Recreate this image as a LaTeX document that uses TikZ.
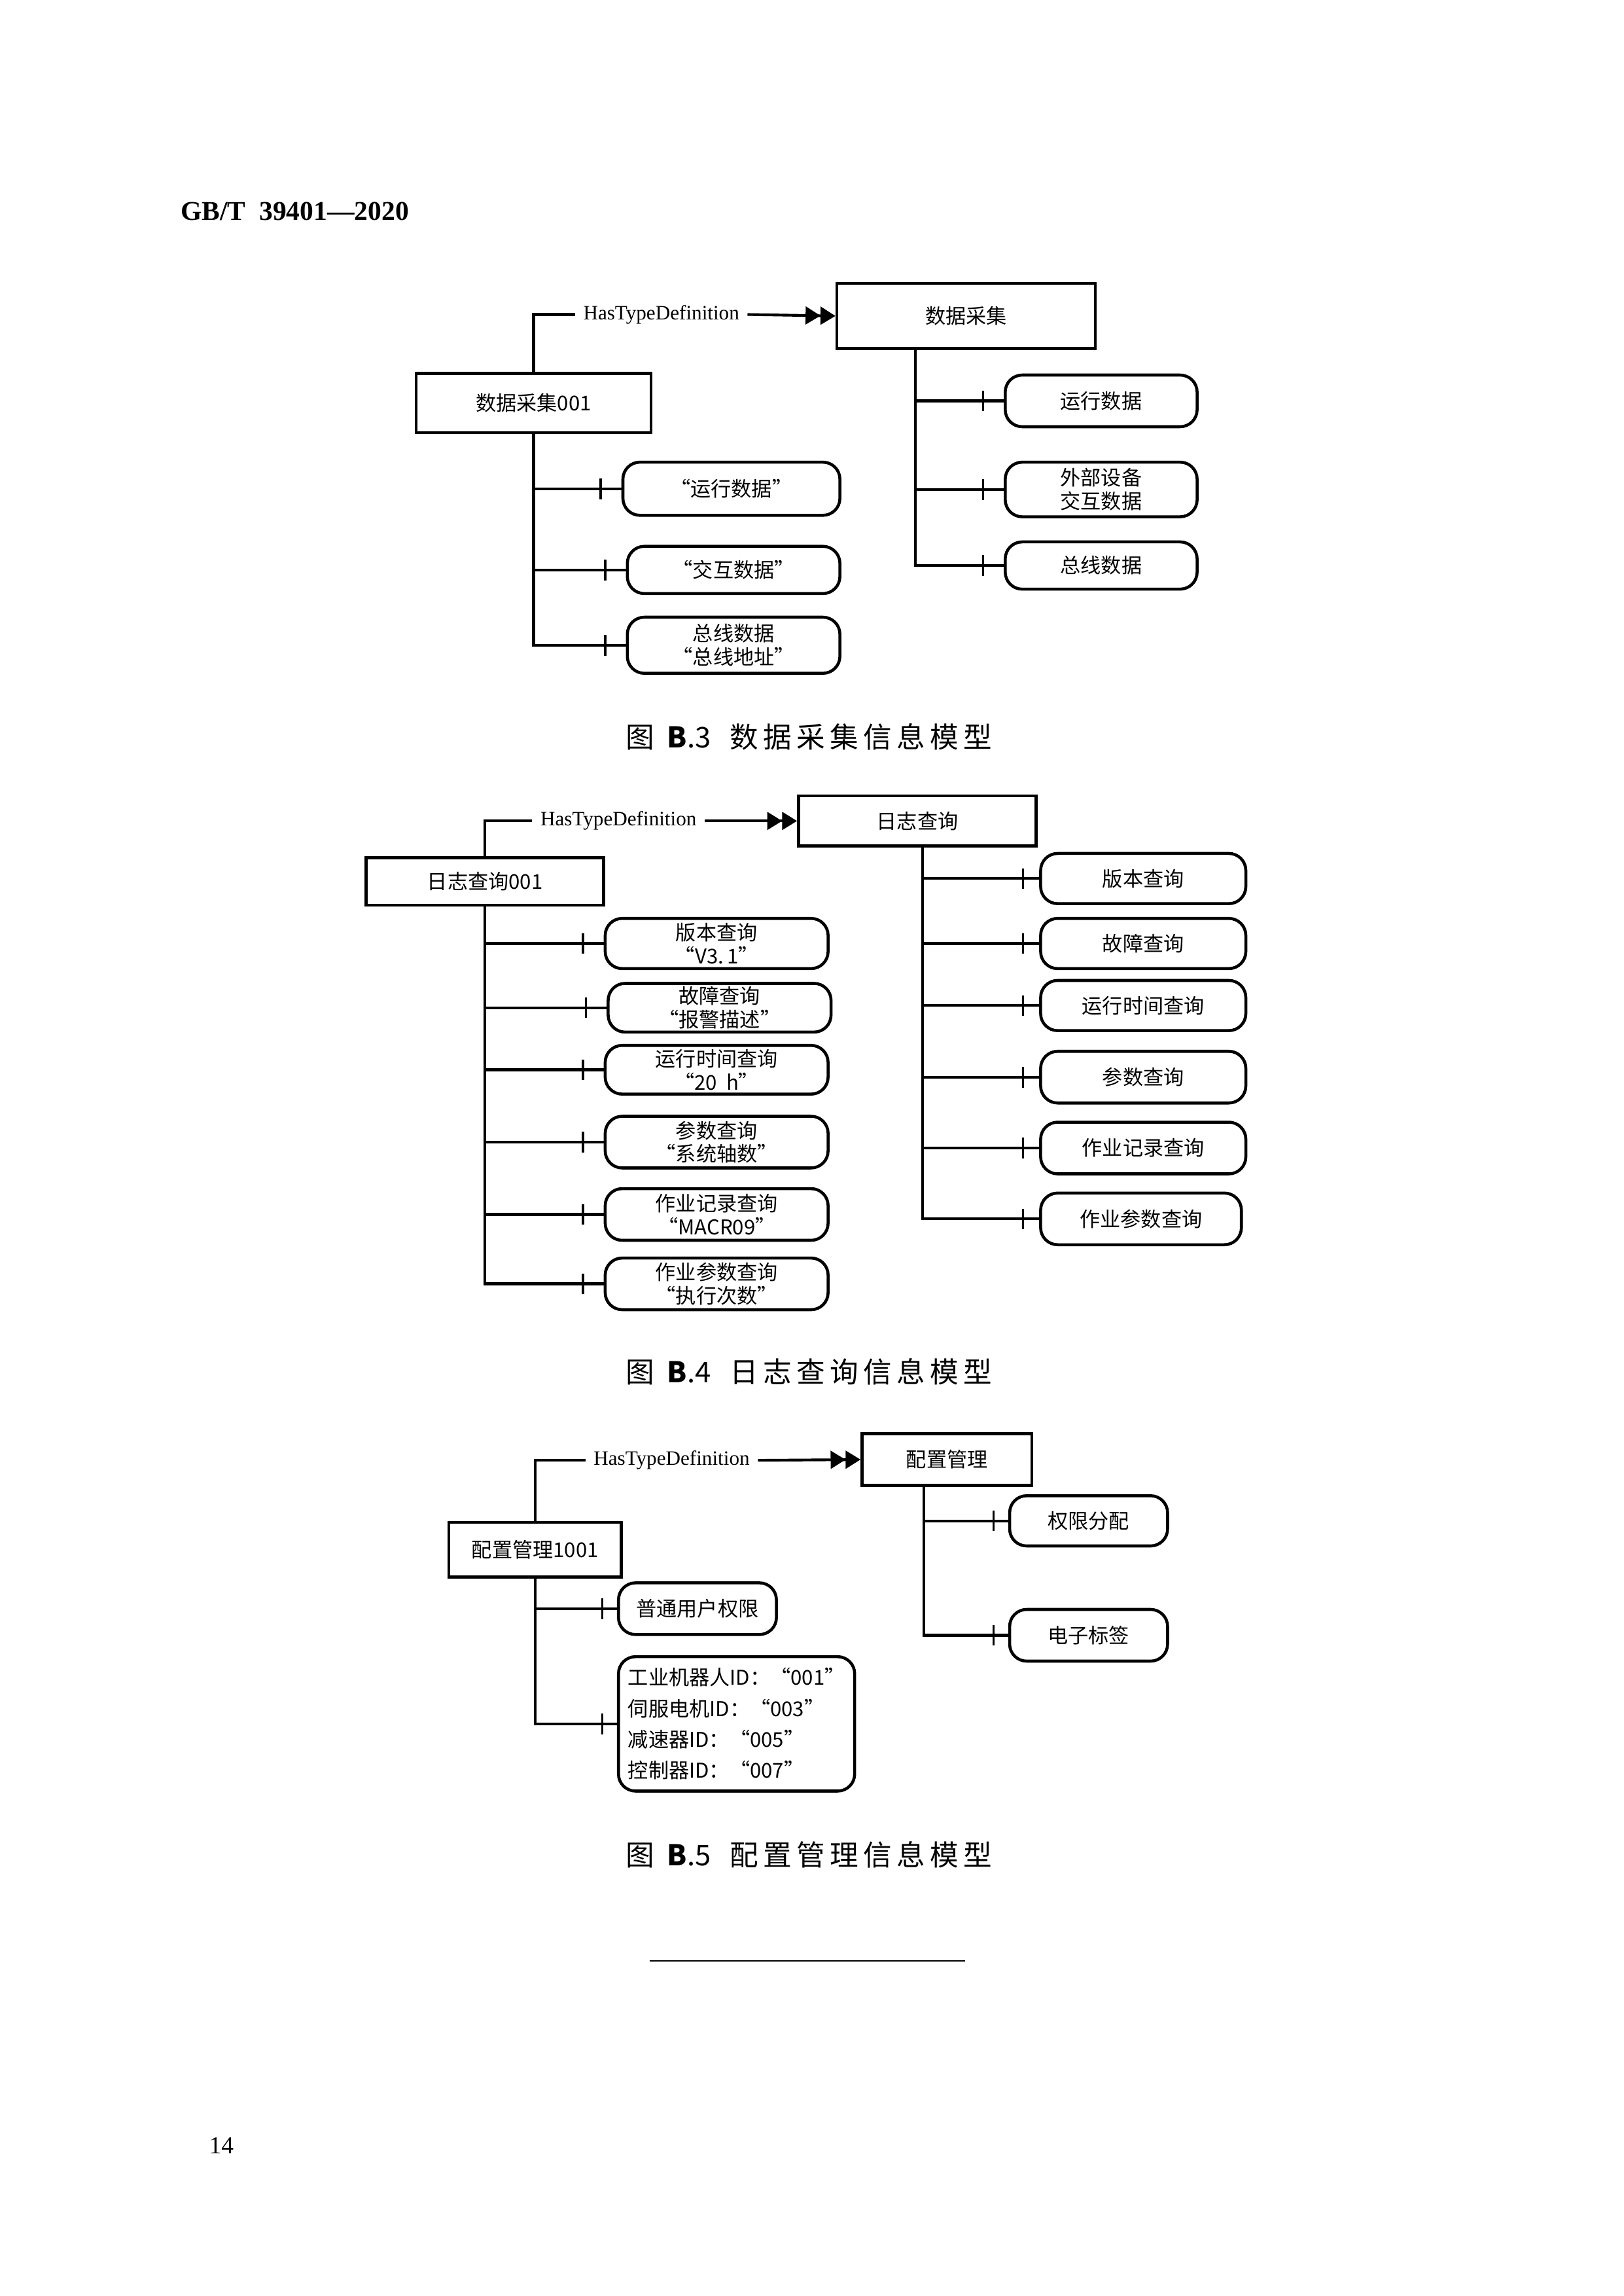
\documentclass[tikz,border=0pt]{standalone}
\usepackage{fontspec}
\setmainfont{Liberation Serif}
\newfontfamily\cjk{Noto Sans CJK SC}
\usetikzlibrary{arrows.meta,calc,positioning}
\newcommand{\px}{0.1909mm}
\tikzset{
  typebox/.style = {rectangle,draw=black,line width=1.1pt,font=\cjk\fontsize{7.5}{8.6}\selectfont,inner sep=0pt},
  leaf/.style = {rectangle,rounded corners=2.2mm,draw=black,line width=1.1pt,align=center,font=\cjk\fontsize{7.5}{8.6}\selectfont,inner sep=0pt},
  conn/.style = {line width=1pt},
  htdarrow/.style = {conn,-{Triangle[length=5.5pt,width=6.5pt]Triangle[length=5.5pt,width=6.5pt]}},
  htd/.style = {font=\fontsize{7.5}{9}\selectfont,inner ysep=1pt,inner xsep=1mm},
  caption/.style = {font=\cjk\fontsize{10.5}{12}\selectfont}
}
\newcommand{\tickbar}[2]{\draw[line width=0.8pt] ($(#1.west)+(-#2,-7)$) -- ++(0,14);}
\begin{document}
\begin{tikzpicture}[x=\px,y=-\px]
  \useasboundingbox (0,0) rectangle (1100,1555);
  \node[font=\bfseries\fontsize{10}{12}\selectfont,anchor=west] (hdr) at (116,143) {GB/T\ \ 39401\textemdash2020};
  \node[font=\fontsize{9}{11}\selectfont] (pg) at (150,1453) {14};
  \coordinate (ruleA) at (440,1328);
  \coordinate (ruleB) at (654,1328);
  \draw[line width=0.6pt] (ruleA) -- (ruleB);

  % B.3
  \node[typebox,minimum width={175*\px},minimum height={44*\px}] (dc) at (654.5,214) {数据采集};
  \node[typebox,minimum width={159*\px},minimum height={40*\px}] (dci) at (361.5,273) {数据采集001};
  \node[htd] (dch) at (448,213) {HasTypeDefinition};
  \draw[conn] (dci.north) |- (dch.west);
  \draw[htdarrow] (dch.east) -- (dc.west);
  \node[leaf,minimum width={130*\px},minimum height={35*\px}] (dc1) at (746,271.5) {运行数据};
  \node[leaf,minimum width={130*\px},minimum height={37*\px}] (dc2) at (746,331.5) {外部设备\\交互数据};
  \node[leaf,minimum width={130*\px},minimum height={32*\px}] (dc3) at (746,383) {总线数据};
  \coordinate (dct) at (620,236);
  \draw[conn] (dct) |- (dc3.west);
  \foreach \b in {dc1,dc2} {\draw[conn] (dct |- \b.west) -- (\b.west);}
  \foreach \b in {dc1,dc2,dc3} {\tickbar{\b}{14}}
  \node[leaf,minimum width={147*\px},minimum height={36*\px}] (dci1) at (495.5,331) {“运行数据”};
  \node[leaf,minimum width={144*\px},minimum height={32*\px}] (dci2) at (497,386) {“交互数据”};
  \node[leaf,minimum width={144*\px},minimum height={38*\px}] (dci3) at (497,437) {总线数据\\“总线地址”};
  \draw[conn] (dci.south) |- (dci3.west);
  \foreach \b in {dci1,dci2} {\draw[conn] (dci.south |- \b.west) -- (\b.west);}
  \foreach \b in {dci1,dci2,dci3} {\tickbar{\b}{14}}
  \node[caption] (capa) at (548,499) {图\ \ \textbf{B}.3\ \ \ 数\,据\,采\,集\,信\,息\,模\,型};

  % B.4
  \node[typebox,minimum width={161*\px},minimum height={34*\px}] (lq) at (621.5,556) {日志查询};
  \node[typebox,minimum width={161*\px},minimum height={32*\px}] (lqi) at (328.5,597) {日志查询001};
  \node[htd] (lqh) at (419,556) {HasTypeDefinition};
  \draw[conn] (lqi.north) |- (lqh.west);
  \draw[htdarrow] (lqh.east) -- (lq.west);
  \node[leaf,minimum width={139*\px},minimum height={34*\px}] (lq1) at (774.5,595) {版本查询};
  \node[leaf,minimum width={139*\px},minimum height={34*\px}] (lq2) at (774.5,639) {故障查询};
  \node[leaf,minimum width={139*\px},minimum height={34*\px}] (lq3) at (774.5,681) {运行时间查询};
  \node[leaf,minimum width={139*\px},minimum height={35*\px}] (lq4) at (774.5,729.5) {参数查询};
  \node[leaf,minimum width={139*\px},minimum height={35*\px}] (lq5) at (774.5,777.5) {作业记录查询};
  \node[leaf,minimum width={136*\px},minimum height={35*\px}] (lq6) at (773,825.5) {作业参数查询};
  \coordinate (lqt) at (625,573);
  \draw[conn] (lqt) |- (lq6.west);
  \foreach \b in {lq1,lq2,lq3,lq4,lq5} {\draw[conn] (lqt |- \b.west) -- (\b.west);}
  \foreach \b in {lq1,lq2,lq3,lq4,lq5,lq6} {\tickbar{\b}{11}}
  \node[leaf,minimum width={151*\px},minimum height={34*\px}] (lqi1) at (485.5,639) {版本查询\\“V3.\,1”};
  \node[leaf,minimum width={151*\px},minimum height={33*\px}] (lqi2) at (487.5,682.5) {故障查询\\“报警描述”};
  \node[leaf,minimum width={151*\px},minimum height={33*\px}] (lqi3) at (485.5,724.5) {运行时间查询\\“20\ \ h”};
  \node[leaf,minimum width={151*\px},minimum height={35*\px}] (lqi4) at (485.5,773.5) {参数查询\\“系统轴数”};
  \node[leaf,minimum width={151*\px},minimum height={35*\px}] (lqi5) at (485.5,822.5) {作业记录查询\\“MACR09”};
  \node[leaf,minimum width={151*\px},minimum height={35*\px}] (lqi6) at (485.5,869.5) {作业参数查询\\“执行次数”};
  \draw[conn] (lqi.south) |- (lqi6.west);
  \foreach \b in {lqi1,lqi2,lqi3,lqi4,lqi5} {\draw[conn] (lqi.south |- \b.west) -- (\b.west);}
  \foreach \b in {lqi1,lqi2,lqi3,lqi4,lqi5,lqi6} {\tickbar{\b}{14}}
  \node[caption] (capb) at (548,929) {图\ \ \textbf{B}.4\ \ \ 日\,志\,查\,询\,信\,息\,模\,型};

  % B.5
  \node[typebox,minimum width={115*\px},minimum height={35*\px}] (pz) at (641.5,988.5) {配置管理};
  \node[typebox,minimum width={117*\px},minimum height={37*\px}] (pzi) at (362.5,1049.5) {配置管理1001};
  \node[htd] (pzh) at (455,989) {HasTypeDefinition};
  \draw[conn] (pzi.north) |- (pzh.west);
  \draw[htdarrow] (pzh.east) -- (pz.west);
  \node[leaf,minimum width={107*\px},minimum height={34*\px}] (pz1) at (737.5,1030) {权限分配};
  \node[leaf,minimum width={107*\px},minimum height={35*\px}] (pz2) at (737.5,1107.5) {电子标签};
  \coordinate (pzt) at (626,1006);
  \draw[conn] (pzt) |- (pz2.west);
  \draw[conn] (pzt |- pz1.west) -- (pz1.west);
  \foreach \b in {pz1,pz2} {\tickbar{\b}{10}}
  \node[leaf,minimum width={107*\px},minimum height={35*\px}] (pzi1) at (472.5,1089.5) {普通用户权限};
  \node[leaf,minimum width={160*\px},minimum height={91*\px},align=left,font=\cjk\fontsize{7.5}{11.4}\selectfont] (pzi2) at (499,1167.5) {工业机器人ID：“001”\\伺服电机ID：“003”\\减速器ID：“005”\\控制器ID：“007”};
  \draw[conn] (pzi.south) |- (pzi2.west);
  \draw[conn] (pzi.south |- pzi1.west) -- (pzi1.west);
  \foreach \b in {pzi1,pzi2} {\tickbar{\b}{10}}
  \node[caption] (capc) at (548,1256) {图\ \ \textbf{B}.5\ \ \ 配\,置\,管\,理\,信\,息\,模\,型};
\end{tikzpicture}
\end{document}
